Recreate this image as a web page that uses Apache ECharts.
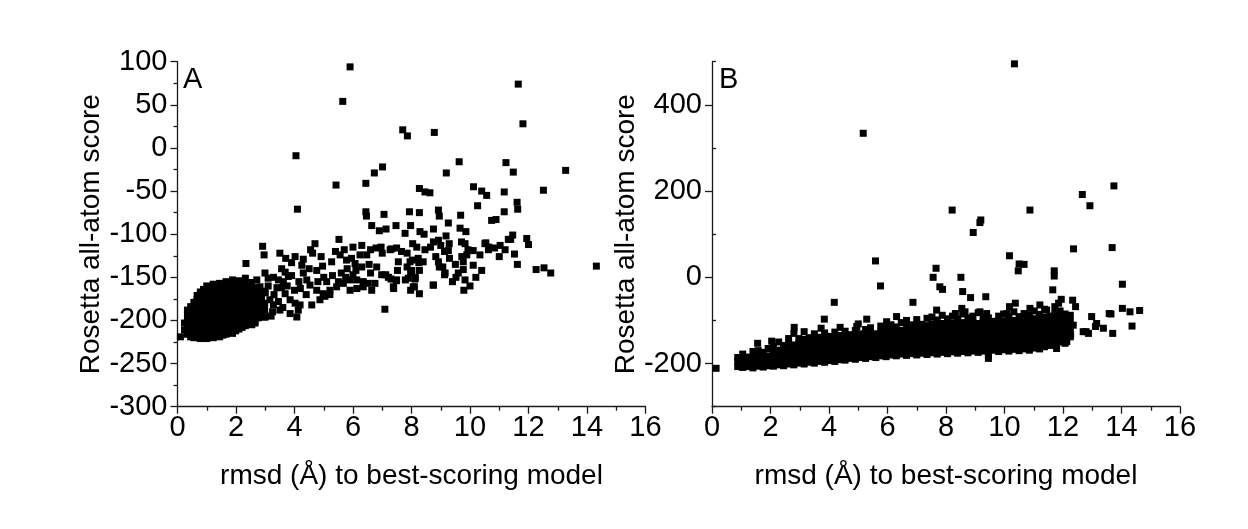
<!DOCTYPE html>
<html>
<head>
<meta charset="utf-8">
<script src="https://cdn.jsdelivr.net/npm/echarts@6/dist/echarts.min.js"></script>
<style>
  html, body { margin: 0; padding: 0; background: #fff; }
  #chart { width: 1248px; height: 529px; }
</style>
</head>
<body>
<div id="chart"></div>
<script>
// ============================================================
// Data: rmsd (Å) vs Rosetta all-atom score, panels A and B
// dense blobs are kept as columns: [rmsd, score, score, ...]
// ============================================================

var FONT = '"Liberation Sans", Arial, sans-serif';
var X_TITLE = 'rmsd (Å) to best-scoring model';
var Y_TITLE = 'Rosetta all-atom score';

var scoreMajorB = [-200, 0, 200, 400];
var scoreMinorB = [-300, -100, 100, 300, 500];

// panel A: the dense cluster near the best model
var clusterA = [
  [0.10, -219],
  [0.24, -211, -203],
  [0.34, -216, -209, -201, -194, -188],
  [0.45, -219, -212, -205, -197, -191, -184],
  [0.56, -220, -213, -206, -199, -192, -185, -179],
  [0.67, -218, -211, -204, -197, -190, -183, -176, -171],
  [0.78, -221, -214, -207, -200, -193, -186, -179, -172, -167],
  [0.89, -219, -212, -205, -198, -191, -184, -177, -170, -164],
  [1.00, -221, -214, -207, -200, -193, -186, -179, -172, -165, -160],
  [1.11, -219, -212, -205, -198, -191, -184, -177, -170, -163],
  [1.22, -220, -213, -206, -199, -192, -185, -178, -171, -164, -158],
  [1.33, -218, -211, -204, -197, -190, -183, -176, -169, -162],
  [1.44, -219, -212, -205, -198, -191, -184, -177, -170, -163, -157],
  [1.55, -217, -210, -203, -196, -189, -182, -175, -168, -161],
  [1.66, -216, -209, -202, -195, -188, -181, -174, -167, -160, -155],
  [1.77, -214, -207, -200, -193, -186, -179, -172, -165, -158],
  [1.88, -215, -208, -201, -194, -187, -180, -173, -166, -159, -153],
  [1.99, -212, -205, -198, -191, -184, -177, -170, -163, -156],
  [2.10, -210, -203, -196, -189, -182, -175, -168, -161, -154],
  [2.21, -208, -201, -194, -187, -180, -173, -166, -159],
  [2.32, -206, -199, -192, -185, -178, -171, -164, -157, -151],
  [2.43, -204, -197, -190, -183, -176, -169, -162],
  [2.54, -205, -198, -191, -184, -177, -170, -163, -156],
  [2.65, -201, -194, -187, -180, -173, -166],
  [2.76, -197, -190, -183, -176, -169, -162],
  [2.87, -193, -185, -177, -170],
  [2.98, -196, -188, -180, -166]
];

// panel A: the spread of models from 2.5 to 14.5 Å
var spreadA = [
  [4.70, -111], [5.52, -106], [2.91, -114], [2.96, -124], [2.34, -134], [4.02, -126], [4.25, -136],
  [4.62, -122], [4.91, -126], [5.27, -132], [4.96, -137], [4.76, -142], [5.56, -124], [5.78, -130],
  [6.07, -134], [6.24, -124], [6.47, -124], [3.56, -140], [3.68, -144], [3.28, -150], [3.45, -153],
  [3.62, -155], [3.79, -149], [3.90, -148], [2.99, -145], [3.10, -151], [2.71, -153], [2.82, -161],
  [4.42, -153], [4.53, -159], [4.76, -165], [4.98, -169], [5.21, -165], [5.44, -161], [5.67, -157],
  [5.90, -153], [6.13, -153], [6.35, -155], [6.52, -157], [4.87, -176], [5.04, -172], [5.21, -170],
  [5.90, -165], [6.13, -163], [6.35, -161], [3.68, -169], [3.85, -176], [4.02, -180], [4.19, -182],
  [4.13, -188], [3.85, -192], [4.08, -196], [3.50, -188], [4.59, -182], [2.99, -196], [2.65, -203],
  [3.16, -176], [3.28, -182], [3.00, -168], [3.10, -160], [3.30, -170], [3.45, -178], [3.40, -162],
  [3.60, -185], [3.20, -195], [2.95, -185], [3.25, -190], [3.55, -162], [3.75, -160],
  [4.30, -145], [4.50, -140], [5.00, -150], [5.30, -148], [5.60, -145], [5.80, -140], [6.10, -142],
  [6.30, -138], [5.50, -155], [4.20, -163], [4.40, -170], [4.00, -165], [5.10, -155], [5.75, -150],
  [6.00, -147], [3.90, -133], [3.70, -128], [3.50, -122], [4.30, -129], [4.55, -118], [5.40, -120],
  [5.70, -118], [6.00, -115], [6.30, -113], [6.60, -118], [4.80, -155], [4.15, -155], [5.95, -128],
  [6.55, -135], [6.60, -145],
  [9.26, -87], [10.74, -84], [10.89, -83], [6.64, -90], [6.90, -96], [7.13, -94], [7.47, -90],
  [7.78, -99], [7.97, -90], [8.29, -97], [8.43, -100], [8.75, -94], [9.18, -102], [9.66, -93],
  [9.86, -97], [6.96, -115], [7.32, -117], [7.49, -116], [7.66, -120], [6.81, -138], [6.98, -147],
  [7.21, -150], [7.38, -161], [7.49, -153], [6.75, -157], [6.64, -165], [8.04, -111], [8.18, -115],
  [8.46, -118], [8.75, -109], [8.92, -107], [9.00, -113], [9.29, -111], [9.26, -119], [9.83, -111],
  [10.00, -119], [9.72, -126], [9.77, -132], [9.89, -124], [9.77, -141], [9.52, -150], [9.83, -153],
  [9.79, -165], [10.11, -136], [10.34, -124], [10.40, -142], [10.51, -111], [10.63, -118],
  [11.03, -113], [11.31, -106], [11.46, -101], [11.94, -105], [11.52, -123], [11.62, -135],
  [12.26, -141], [12.53, -139], [12.76, -145], [7.95, -132], [8.01, -142], [7.89, -151], [8.12, -152],
  [8.06, -161], [8.27, -169], [8.23, -128], [8.40, -132], [8.27, -142], [8.92, -132], [9.07, -138],
  [9.15, -145], [8.75, -159], [7.09, -187], [9.13, -120], [8.65, -115], [10.54, -110], [10.64, -115],
  [10.84, -116], [11.39, -106], [7.27, -118], [7.00, -122], [6.79, -116], [7.55, -132], [7.52, -142],
  [7.12, -147], [7.30, -152], [7.48, -154], [7.39, -163], [7.85, -122], [8.03, -130], [8.25, -133],
  [7.85, -138], [7.97, -145], [8.13, -150], [7.79, -153], [8.10, -161], [7.97, -165], [8.74, -159],
  [8.83, -126], [8.95, -138], [9.13, -147], [9.71, -109], [10.11, -119], [9.93, -118],
  [9.30, -128], [9.50, -135], [9.60, -145], [10.20, -150], [10.00, -160], [9.40, -155],
  [11.20, -118], [11.00, -126], [12.00, -112], [14.32, -137]
];

// panel A: high-scoring outliers
var outliersA = [
  [5.90, 94], [5.65, 54], [4.05, -9], [5.42, -43], [6.44, -41], [11.65, 74], [11.81, 28],
  [7.70, 21], [7.86, 14], [8.78, 18], [9.63, -16], [11.23, -17], [11.48, -28], [13.27, -26],
  [7.01, -22], [6.73, -29], [9.19, -29], [8.27, -47], [8.46, -51], [8.63, -52], [10.12, -45],
  [10.40, -50], [10.57, -55], [11.17, -51], [12.51, -49], [4.10, -71], [10.26, -67], [11.17, -74],
  [11.61, -63], [11.63, -71], [6.44, -74], [6.46, -79], [7.06, -77], [7.93, -74], [8.27, -75],
  [8.92, -72], [8.95, -79], [9.68, -78]
];

// panel B: the long dense band
var bandB = [
  [0.88, -207, -195, -186],
  [1.05, -209, -198, -187, -178],
  [1.22, -207, -196, -185],
  [1.40, -210, -199, -188, -172],
  [1.58, -206, -195, -183, -170],
  [1.75, -208, -197, -186, -174],
  [1.92, -205, -194, -182, -165],
  [2.10, -206, -195, -184, -172, -160],
  [2.28, -203, -192, -181, -169, -150],
  [2.45, -205, -194, -183, -171, -158],
  [2.62, -201, -190, -179, -167, -155, -142],
  [2.80, -203, -192, -181, -169, -157, -130],
  [2.97, -199, -188, -178, -166, -154, -142],
  [3.15, -201, -190, -180, -168, -156, -144, -126],
  [3.32, -197, -187, -176, -164, -152, -140],
  [3.50, -199, -189, -179, -167, -155, -143, -131],
  [3.67, -195, -185, -175, -163, -151, -139],
  [3.85, -197, -187, -177, -165, -153, -141, -129],
  [4.02, -193, -183, -173, -161, -149, -137],
  [4.20, -195, -185, -175, -163, -151, -139, -127],
  [4.37, -191, -181, -171, -159, -147, -135],
  [4.55, -192, -183, -173, -161, -149, -137, -125],
  [4.72, -188, -179, -169, -157, -145, -133],
  [4.90, -190, -181, -171, -159, -147, -135, -123],
  [5.07, -186, -177, -167, -155, -143, -131],
  [5.25, -188, -179, -169, -157, -145, -133, -121],
  [5.42, -184, -175, -165, -153, -141, -129, -117],
  [5.60, -186, -177, -167, -155, -143, -131],
  [5.77, -182, -173, -163, -151, -139, -127, -113],
  [5.95, -184, -175, -165, -153, -141, -129, -117],
  [6.12, -180, -171, -161, -149, -137, -125, -110],
  [6.30, -182, -173, -163, -151, -139, -127, -115],
  [6.47, -178, -169, -159, -147, -135, -123, -105],
  [6.65, -181, -172, -162, -150, -138, -126, -114, -100],
  [6.82, -177, -168, -158, -146, -134, -122, -110],
  [7.00, -180, -171, -161, -149, -137, -125, -113, -98],
  [7.17, -176, -167, -157, -145, -133, -121, -109],
  [7.35, -179, -170, -160, -148, -136, -124, -112, -95],
  [7.52, -175, -166, -156, -144, -132, -120, -108, -92],
  [7.70, -178, -169, -159, -147, -135, -123, -111, -99],
  [7.87, -174, -165, -155, -143, -131, -119, -107, -88],
  [8.05, -177, -168, -158, -146, -134, -122, -110, -96],
  [8.22, -173, -164, -154, -142, -130, -118, -106, -90],
  [8.40, -176, -167, -157, -145, -133, -121, -109, -97],
  [8.57, -172, -163, -153, -141, -129, -117, -105, -85],
  [8.75, -175, -166, -156, -144, -132, -120, -108, -94],
  [8.92, -171, -162, -152, -140, -128, -116, -104, -90],
  [9.10, -174, -165, -155, -143, -131, -119, -107, -82],
  [9.27, -171, -161, -151, -139, -127, -115, -103, -91],
  [9.45, -180, -166, -154, -142, -130, -118, -106, -94],
  [9.62, -169, -160, -150, -138, -126, -114, -102],
  [9.80, -172, -163, -153, -141, -129, -117, -105, -90],
  [9.97, -168, -159, -149, -137, -125, -113, -101, -85],
  [10.15, -171, -162, -152, -140, -128, -116, -104, -92],
  [10.32, -167, -158, -148, -136, -124, -112, -100, -80],
  [10.50, -170, -161, -151, -139, -127, -115, -103, -91],
  [10.67, -166, -157, -147, -135, -123, -111, -99, -84],
  [10.85, -169, -160, -150, -138, -126, -114, -102, -88],
  [11.02, -164, -155, -144, -132, -120, -108, -96, -78],
  [11.20, -166, -157, -147, -135, -123, -111, -99, -86],
  [11.37, -161, -152, -141, -129, -117, -105, -93, -74],
  [11.55, -158, -149, -138, -126, -114, -102, -90],
  [11.72, -155, -145, -134, -122, -110, -98, -84, -68],
  [11.90, -150, -140, -128, -116, -104, -92, -78],
  [12.07, -145, -133, -121, -109, -97, -85],
  [12.25, -138, -126, -114, -102, -88]
];

// panel B: scattered and outlying models
var spreadB = [
  [10.34, 495], [5.17, 334], [13.74, 212], [12.66, 192], [12.92, 166], [8.21, 156], [10.87, 156],
  [9.19, 133], [9.16, 127], [8.93, 104], [12.36, 66], [13.68, 69], [10.17, 50], [10.50, 31],
  [10.67, 30], [10.47, 15], [5.59, 38], [7.66, 21], [7.56, 0], [8.51, 0], [11.70, 15], [11.70, 3],
  [5.76, -20], [7.79, -22], [7.88, -28], [8.57, -33], [8.84, -47], [9.36, -45], [14.03, -16],
  [11.65, -29], [4.18, -58], [6.87, -58], [11.94, -51], [11.85, -60], [12.33, -53], [12.43, -68],
  [14.03, -72], [14.29, -80], [14.62, -77], [10.37, -60], [10.17, -68], [14.36, -113], [13.70, -130],
  [13.64, -85], [13.11, -114], [12.79, -126], [0.14, -211], [3.84, -97], [5.29, -97], [4.95, -114],
  [5.00, -108], [4.38, -116], [3.73, -118], [2.81, -116], [1.56, -153], [2.04, -148], [5.97, -103],
  [6.31, -91], [12.98, -91], [13.15, -107], [13.38, -118], [12.69, -126], [12.87, -130], [13.58, -84],
  [12.26, -134], [12.13, -149], [11.78, -165], [12.07, -153], [9.45, -188], [10.08, -84],
  [7.68, -76], [8.32, -84], [8.54, -72], [8.65, -80], [9.16, -80], [9.39, -84], [10.87, -72],
  [11.21, -64], [11.44, -76], [11.78, -80], [11.90, -99], [12.18, -91], [12.35, -111]
];

// ============================================================
// Helpers
// ============================================================

function columnsToPoints(columns) {
  var points = [];
  columns.forEach(function(col) {
    for (var i = 1; i < col.length; i++) {
      points.push([col[0], col[i]]);
    }
  });
  return points;
}

var axisLineStyle = { color: '#1a1a1a', width: 1.3 };
var labelStyle = { color: '#000', fontSize: 29, fontFamily: FONT };
var nameStyle = { color: '#000', fontSize: 28, fontFamily: FONT };

function makeXAxis(gridIndex) {
  return {
    type: 'value',
    gridIndex: gridIndex,
    min: 0,
    max: 16,
    interval: 2,
    name: X_TITLE,
    nameLocation: 'middle',
    nameGap: 56,
    nameTextStyle: nameStyle,
    axisLine: { show: true, onZero: false, lineStyle: axisLineStyle },
    axisTick: { show: true, length: 7, lineStyle: axisLineStyle },
    minorTick: { show: true, splitNumber: 2, length: 4, lineStyle: axisLineStyle },
    axisLabel: Object.assign({ margin: 7 }, labelStyle),
    splitLine: { show: false }
  };
}

function makeScatter(data, index) {
  return {
    type: 'scatter',
    xAxisIndex: index,
    yAxisIndex: index,
    data: data,
    symbol: 'rect',
    symbolSize: 7,
    itemStyle: { color: '#000', opacity: 1 },
    silent: true
  };
}

// ============================================================
// Chart
// ============================================================

var chart = echarts.init(document.getElementById('chart'));

var pointsA = columnsToPoints(clusterA).concat(spreadA, outliersA);
var pointsB = columnsToPoints(bandB).concat(spreadB);

chart.setOption({
  animation: false,
  backgroundColor: '#fff',
  grid: [
    { left: 177.5, top: 61.7, width: 468, height: 345, outerBoundsMode: 'none' },
    { left: 712, top: 61.7, width: 468, height: 345, outerBoundsMode: 'none' }
  ],
  xAxis: [makeXAxis(0), makeXAxis(1)],
  yAxis: [
    {
      type: 'value',
      gridIndex: 0,
      min: -300,
      max: 100,
      interval: 50,
      name: Y_TITLE,
      nameLocation: 'middle',
      nameGap: 70,
      nameTextStyle: nameStyle,
      axisLine: { show: true, onZero: false, lineStyle: axisLineStyle },
      axisTick: { show: true, length: 7, lineStyle: axisLineStyle },
      minorTick: { show: true, splitNumber: 2, length: 4, lineStyle: axisLineStyle },
      axisLabel: Object.assign({ margin: 10 }, labelStyle),
      splitLine: { show: false }
    },
    {
      type: 'value',
      gridIndex: 1,
      min: -300,
      max: 500,
      name: Y_TITLE,
      nameLocation: 'middle',
      nameGap: 66,
      nameTextStyle: nameStyle,
      axisLine: { show: true, onZero: false, lineStyle: axisLineStyle },
      axisTick: { show: true, length: 7, customValues: scoreMajorB, lineStyle: axisLineStyle },
      axisLabel: Object.assign({ margin: 10, customValues: scoreMajorB }, labelStyle),
      splitLine: { show: false }
    },
    {
      // minor ticks of panel B
      type: 'value',
      gridIndex: 1,
      min: -300,
      max: 500,
      axisLine: { show: false },
      axisTick: { show: true, length: 4, customValues: scoreMinorB, lineStyle: axisLineStyle },
      axisLabel: { show: false },
      splitLine: { show: false }
    }
  ],
  graphic: [
    { type: 'text', left: 183, top: 65, style: { text: 'A', fontSize: 29, fontFamily: FONT, fill: '#000' } },
    { type: 'text', left: 719, top: 65, style: { text: 'B', fontSize: 29, fontFamily: FONT, fill: '#000' } }
  ],
  series: [makeScatter(pointsA, 0), makeScatter(pointsB, 1)]
});
</script>
</body>
</html>
